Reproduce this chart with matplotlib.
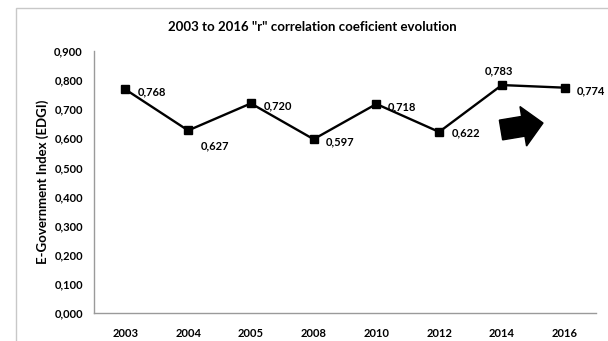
import matplotlib.pyplot as plt
from matplotlib.patches import Rectangle, Polygon
import numpy as np

# data
years = ["2003", "2004", "2005", "2008", "2010", "2012", "2014", "2016"]
r_values = [0.768, 0.627, 0.720, 0.597, 0.718, 0.622, 0.783, 0.774]
y_ticks = [0.0, 0.1, 0.2, 0.3, 0.4, 0.5, 0.6, 0.7, 0.8, 0.9]

# where each value label sits relative to its point (points)
label_offsets = [(9, -2), (9, -11), (9, -2), (9, -2), (8, -2), (9, -1), (-12, 10), (9, -2)]

plt.rcParams['font.family'] = ['Lato', 'DejaVu Sans']
plt.rcParams['font.weight'] = 'bold'

fig = plt.figure(figsize=(6.08, 3.41), dpi=100)
fig.patch.set_facecolor('white')

# light frame of the chart area (runs off the right and bottom edges)
fig.patches.append(Rectangle((16 / 608, -0.1), 1.2, 1 - 8 / 341 + 0.1,
                             transform=fig.transFigure, fill=False,
                             edgecolor='#c8c8c8', linewidth=1.0))

ax = fig.add_axes([94 / 608, 1 - 313 / 341, 502 / 608, 262 / 341])
x = np.arange(len(years))
ax.plot(x, r_values, color='black', linewidth=1.7, marker='s', markersize=6)

for xi, v, off in zip(x, r_values, label_offsets):
    ax.annotate(("%.3f" % v).replace('.', ','), (xi, v), xytext=off,
                textcoords='offset points', ha='left', va='center',
                fontsize=8, fontweight='bold')

ax.set_xlim(-0.5, len(years) - 0.5)
ax.set_ylim(0, 0.9)
ax.set_xticks(x)
ax.set_xticklabels(years)
ax.set_yticks(y_ticks)
ax.set_yticklabels([("%.3f" % t).replace('.', ',') for t in y_ticks])
ax.tick_params(length=0, labelsize=8, pad=11)
ax.tick_params(axis='y', pad=8)
for s in ['top', 'right']:
    ax.spines[s].set_visible(False)
for s in ['left', 'bottom']:
    ax.spines[s].set_color('#9a9a9a')
    ax.spines[s].set_linewidth(1.0)

ax.set_ylabel("E-Government Index (EDGI)", fontsize=9.5, fontweight='bold', labelpad=4)
fig.text(312 / 608, 1 - 27 / 341, '2003 to 2016 "r" correlation coeficient evolution',
         ha='center', va='center', fontsize=9.5, fontweight='bold')

# big block arrow pointing up-right (drawn in pixel space)
tail = np.array([501.0, 130.0])
tip = np.array([543.0, 123.0])
d = tip - tail
u = d / np.hypot(*d)
n = np.array([-u[1], u[0]])
shaft_w, head_w, head_l = 20.0, 40.0, 20.0
base = tip - u * head_l
pts = [tail + n * shaft_w / 2, base + n * shaft_w / 2, base + n * head_w / 2, tip,
       base - n * head_w / 2, base - n * shaft_w / 2, tail - n * shaft_w / 2]
pts = [(p[0] / 608, 1 - p[1] / 341) for p in pts]
fig.patches.append(Polygon(pts, closed=True, transform=fig.transFigure,
                           facecolor='black', edgecolor='black'))

fig.savefig('out.png', dpi=100)
